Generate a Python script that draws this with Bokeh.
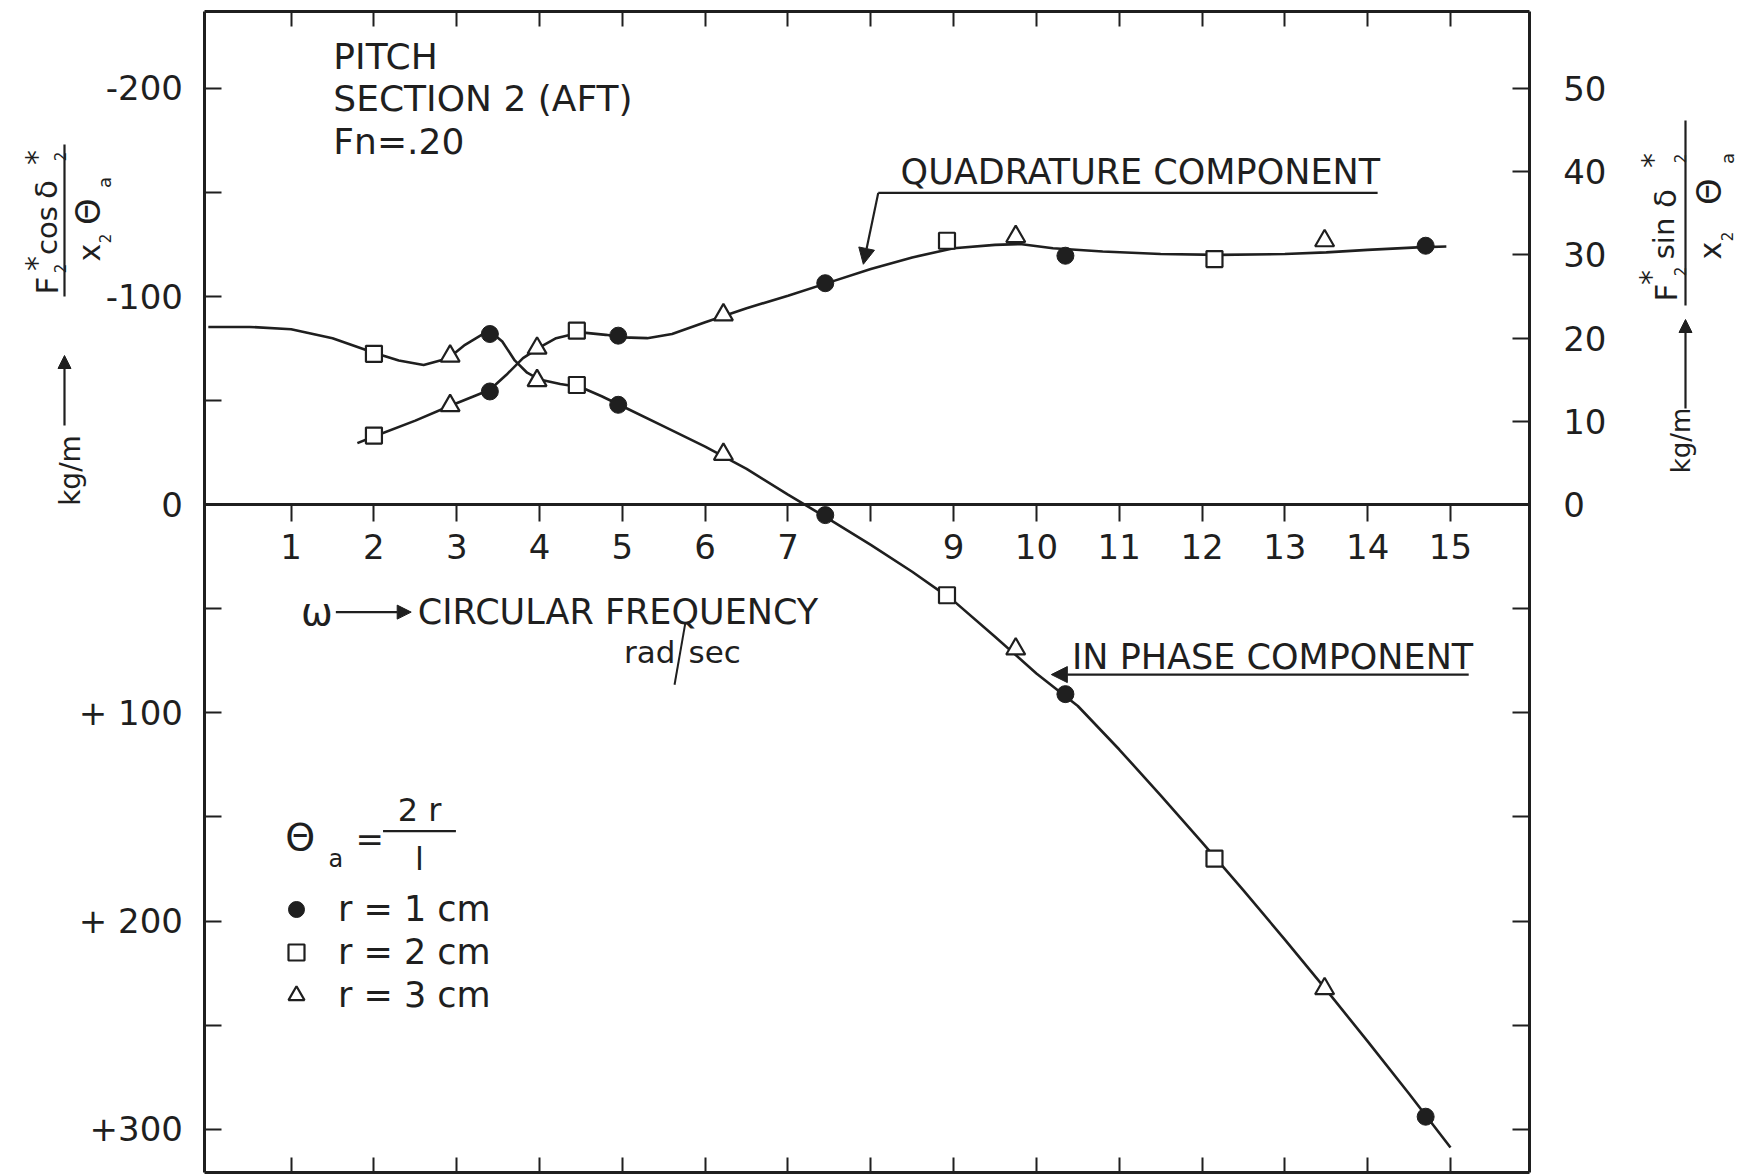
import numpy as np
from bokeh.plotting import figure
from bokeh.models import (Range1d, LinearAxis, FixedTicker, Label, Arrow,
                          NormalHead, Legend, LegendItem)
from bokeh.embed import file_html
from bokeh.resources import INLINE

FONT = "DejaVu Sans"
INK = "#1f1f1f"

# ---- faired curves (omega in rad/sec, forces in kg/m per unit pitch) ----
inphase_omega = [0.0, 0.5, 1.0, 1.5, 2.0, 2.3, 2.6, 2.9, 3.1, 3.3, 3.42, 3.55,
                 3.7, 3.85, 4.0, 4.25, 4.5, 4.75, 5.0, 5.5, 6.0, 6.5, 7.0, 7.5,
                 8.0, 8.5, 9.0, 9.5, 10.0, 10.5, 11.0, 11.5, 12.0, 12.5, 13.0,
                 13.5, 14.0, 14.5, 15.0]
inphase_force = [-85.4, -85.4, -84.3, -80.0, -73.0, -69.3, -67.1, -70.4, -76.8,
                 -81.6, -82.7, -78.4, -69.3, -63.4, -60.1, -58.0, -56.4, -52.1,
                 -47.3, -37.6, -27.9, -17.2, -4.8, 7.0, 19.3, 32.2, 46.2, 63.4,
                 81.1, 96.7, 117.6, 139.6, 162.2, 185.3, 208.9, 233.1, 257.8,
                 283.0, 308.8]

quad_omega = [1.8, 2.0, 2.5, 2.9, 3.2, 3.4, 3.6, 3.8, 4.0, 4.2, 4.5, 4.8, 5.0,
              5.3, 5.6, 6.0, 6.5, 7.0, 7.5, 8.0, 8.5, 9.0, 9.5, 9.8, 10.2,
              10.8, 11.5, 12.2, 13.0, 13.5, 14.0, 14.6, 14.95]
quad_force = [7.4, 8.2, 10.1, 11.8, 13.0, 13.8, 15.6, 17.6, 18.9, 20.0, 20.7,
              20.4, 20.1, 20.0, 20.5, 21.9, 23.6, 25.1, 26.7, 28.3, 29.7, 30.8,
              31.2, 31.3, 30.8, 30.4, 30.1, 30.0, 30.1, 30.3, 30.6, 30.9, 31.0]

# ---- measured points for the three oscillation amplitudes ----
r1_omega = [3.4, 4.95, 7.45, 10.35, 14.7]
r1_inphase = [-82.0, -48.0, 5.0, 91.0, 294.0]
r1_quad = [13.6, 20.3, 26.6, 29.9, 31.1]

r2_omega = [2.0, 4.45, 8.92, 12.15]
r2_inphase = [-72.5, -57.5, 43.5, 170.0]
r2_quad = [8.3, 20.9, 31.7, 29.5]

r3_omega = [2.92, 3.97, 6.22, 9.75, 13.48]
r3_inphase = [-71.4, -59.6, -24.2, 69.3, 232.5]
r3_quad = [11.9, 18.8, 22.8, 32.2, 31.7]

legend_labels = ["r = 1 cm", "r = 2 cm", "r = 3 cm"]

# ---- axis ticks and labels ----
omega_ticks = list(range(1, 16))
omega_labels = {t: ("" if t == 8 else str(t)) for t in omega_ticks}
left_ticks = [-200, -150, -100, -50, 0, 50, 100, 150, 200, 250, 300]
left_labels = {-200: "-200", -100: "-100", 0: "0", 100: "+ 100",
               200: "+ 200", 300: "+300"}
right_ticks = [-75, -62.5, -50, -37.5, -25, -12.5, 0, 10, 20, 30, 40, 50]
right_labels = {0: "0", 10: "10", 20: "20", 30: "30", 40: "40", 50: "50"}

# chart box: omega from -0.04 to 15.95, left scale from -236.9 (top) to 320.8
BOX_X = (-0.04, 15.95)
BOX_Y = (-236.9, 320.8)
W, H = 1753, 1175

p = figure(width=W, height=H,
           x_range=Range1d(-2.5094, 18.659),
           y_range=Range1d(322.24, -242.21),      # left scale grows downward
           output_backend="svg", toolbar_location=None,
           x_axis_location=None, y_axis_location=None,
           min_border=0, outline_line_color=None,
           background_fill_color="white", border_fill_color="white")
p.grid.visible = False
# right scale = -left/4 ; "page" ranges address the margins in pixels
p.extra_y_ranges = {"q": Range1d(-322.24 / 4, 242.21 / 4),
                    "page": Range1d(H, 0)}
p.extra_x_ranges = {"page": Range1d(0, W)}


def box_axis(**kw):
    opts = dict(axis_line_color=INK, axis_line_width=3,
                major_tick_line_color=INK, major_tick_line_width=2,
                major_tick_in=17, major_tick_out=0,
                minor_tick_line_color=None,
                major_label_text_font=FONT, major_label_text_font_size="34px",
                major_label_text_color=INK)
    opts.update(kw)
    return LinearAxis(**opts)


p.add_layout(box_axis(ticker=FixedTicker(ticks=left_ticks),
                      major_label_overrides={t: left_labels.get(t, "") for t in left_ticks},
                      major_label_standoff=22, fixed_location=BOX_X[0],
                      bounds=BOX_Y), "left")
p.add_layout(box_axis(y_range_name="q", ticker=FixedTicker(ticks=right_ticks),
                      major_label_overrides={t: right_labels.get(t, "") for t in right_ticks},
                      major_label_standoff=34, fixed_location=BOX_X[1],
                      bounds=(-BOX_Y[1] / 4, -BOX_Y[0] / 4)), "right")
for side, loc in (("above", BOX_Y[0]), ("below", BOX_Y[1])):
    p.add_layout(box_axis(ticker=FixedTicker(ticks=omega_ticks),
                          major_label_overrides={t: "" for t in omega_ticks},
                          major_label_standoff=0, major_label_text_font_size="1px",
                          major_tick_in=15, fixed_location=loc, bounds=BOX_X), side)

# omega axis along the zero line
p.add_layout(box_axis(ticker=FixedTicker(ticks=omega_ticks),
                      major_label_overrides=omega_labels,
                      major_tick_in=0, major_tick_out=17,
                      major_label_standoff=12, fixed_location=0,
                      bounds=BOX_X), "below")

# ---- curves ----
p.line(inphase_omega, inphase_force, line_color=INK, line_width=2.6)
p.line(quad_omega, quad_force, y_range_name="q", line_color=INK, line_width=2.6)

dot_style = dict(marker="circle", size=17, fill_color=INK, line_color=INK)
sq_style = dict(marker="square", size=16, fill_color="white", line_color=INK, line_width=2.2)
tri_style = dict(marker="triangle", size=19, fill_color="white", line_color=INK, line_width=2.2)

dots = p.scatter(r1_omega, r1_inphase, **dot_style)
p.scatter(r1_omega, r1_quad, y_range_name="q", **dot_style)
squares = p.scatter(r2_omega, r2_inphase, **sq_style)
p.scatter(r2_omega, r2_quad, y_range_name="q", **sq_style)
tris = p.scatter(r3_omega, r3_inphase, **tri_style)
p.scatter(r3_omega, r3_quad, y_range_name="q", **tri_style)

legend = Legend(items=[LegendItem(label=legend_labels[0], renderers=[dots]),
                       LegendItem(label=legend_labels[1], renderers=[squares]),
                       LegendItem(label=legend_labels[2], renderers=[tris])],
                location=(276, 160), orientation="vertical",
                border_line_color=None, background_fill_alpha=0,
                label_text_font=FONT, label_text_font_size="35px",
                label_text_color=INK, glyph_width=40, glyph_height=40,
                spacing=3, padding=0, margin=0, label_standoff=22)
p.add_layout(legend)


def note(x, y, text, size="35px", align="left", angle=0.0, page=False):
    kw = dict(x_range_name="page", y_range_name="page") if page else {}
    p.add_layout(Label(x=x, y=y, text=text, text_font=FONT, text_font_size=size,
                       text_color=INK, text_align=align, text_baseline="middle",
                       angle=angle, **kw))


def rule(x0, y0, x1, y1, head=None, width=2.2, page=False):
    kw = dict(x_range_name="page", y_range_name="page") if page else {}
    p.add_layout(Arrow(x_start=x0, y_start=y0, x_end=x1, y_end=y1, start=None,
                       end=head, line_color=INK, line_width=width, **kw))


def head(size=16):
    return NormalHead(size=size, fill_color=INK, line_color=INK, line_width=1)


# ---- case heading ----
note(1.51, -215.4, "PITCH", size="36px")
note(1.51, -195.0, "SECTION 2 (AFT)", size="36px")
note(1.51, -174.5, "Fn=.20", size="36px")

# ---- curve call-outs ----
note(8.36, -160.0, "QUADRATURE COMPONENT")
rule(14.12, -149.8, 8.09, -149.8)
rule(8.09, -149.8, 7.91, -115.5, head(16))

note(10.43, 73.0, "IN PHASE COMPONENT")
rule(15.22, 81.6, 10.18, 81.6, head(16))

# ---- abscissa title ----
note(1.31, 51.6, "ω", size="38px", align="center")
rule(1.54, 51.6, 2.45, 51.6, head(14))
note(2.53, 51.6, "CIRCULAR FREQUENCY")
note(5.64, 70.9, "rad", size="31px", align="right")
rule(5.63, 86.5, 5.76, 56.9, width=2)
note(5.80, 70.9, "sec", size="31px")

# ---- amplitude definition ----
note(1.11, 159.5, "Θ", size="38px", align="center")
note(1.54, 170.2, "a", size="24px", align="center")
note(1.95, 160.6, "=", size="34px", align="center")
rule(2.11, 156.8, 2.99, 156.8, width=2.4)
note(2.55, 146.6, "2 r", size="32px", align="center")
note(2.55, 170.2, "l", size="32px", align="center")

# ---- ordinate titles, written upward in the margins ----
up = np.pi / 2
left_title = [("F", 46, 285, "31px"), ("*", 36, 263, "30px"),
              ("2", 59, 268, "15px"), ("cos", 46, 230, "29px"),
              ("δ", 45, 189, "31px"), ("*", 36, 157, "30px"),
              ("2", 59, 156, "15px"), ("x", 89, 252, "30px"),
              ("2", 104, 238, "15px"), ("Θ", 87, 211, "34px"),
              ("a", 104, 182, "18px"), ("kg/m", 70, 470, "28px")]
right_title = [("F", 1665, 292, "31px"), ("*", 1650, 277, "30px"),
               ("2", 1679, 271, "15px"), ("sin", 1663, 238, "29px"),
               ("δ", 1664, 198, "31px"), ("*", 1652, 160, "30px"),
               ("2", 1679, 158, "15px"), ("x", 1710, 250, "30px"),
               ("2", 1726, 236, "15px"), ("Θ", 1708, 191, "34px"),
               ("a", 1727, 158, "18px"), ("kg/m", 1680, 440, "26px")]
for txt, x, y, size in left_title + right_title:
    note(x, y, txt, size=size, align="center", angle=up, page=True)

rule(64, 144, 64, 296, width=2.2, page=True)
rule(64, 425, 64, 355, head(13), page=True)
rule(1685, 120, 1685, 305, width=2.2, page=True)
rule(1685, 408, 1685, 319, head(13), page=True)

open("out.html", "w").write(file_html(p, INLINE))
